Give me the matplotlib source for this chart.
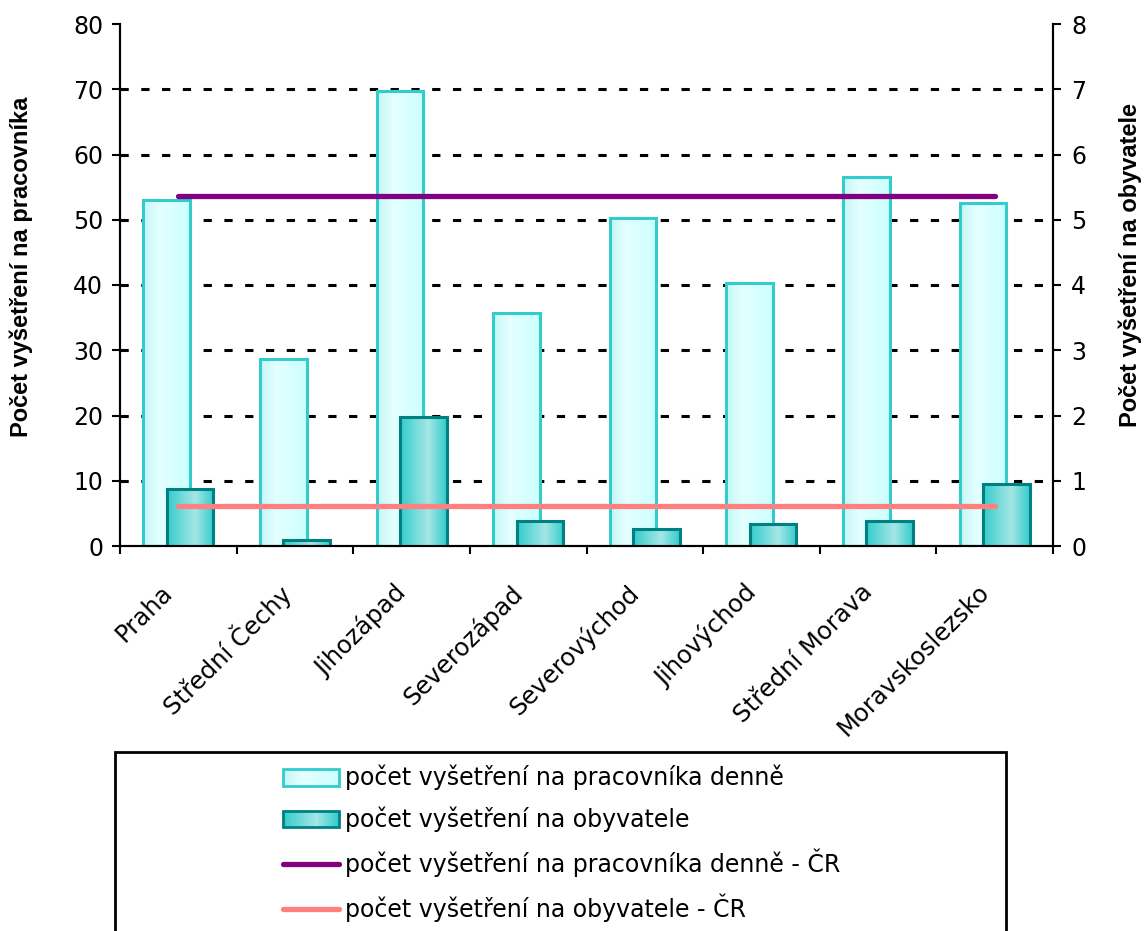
import numpy as np
import matplotlib
matplotlib.use("Agg")
import matplotlib.pyplot as plt
from matplotlib.colors import LinearSegmentedColormap
from matplotlib.patches import Rectangle
from matplotlib.lines import Line2D
from matplotlib.legend_handler import HandlerBase
from matplotlib.transforms import ScaledTranslation

# regiony
regiony = ["Praha", "Střední Čechy", "Jihozápad", "Severozápad",
           "Severovýchod", "Jihovýchod", "Střední Morava", "Moravskoslezsko"]
# počet vyšetření na pracovníka denně (levá osa)
na_pracovnika = [53.1, 28.6, 69.7, 35.7, 50.3, 40.3, 56.6, 52.5]
# počet vyšetření na obyvatele (pravá osa)
na_obyvatele = [0.88, 0.09, 1.97, 0.38, 0.26, 0.34, 0.38, 0.95]
# průměr za ČR
cr_pracovnik = 53.7
cr_obyvatel = 0.62

popisky = ["počet vyšetření na pracovníka denně",
           "počet vyšetření na obyvatele",
           "počet vyšetření na pracovníka denně - ČR",
           "počet vyšetření na obyvatele - ČR"]

# barevné přechody sloupců (zleva doprava)
cmap_svetla = LinearSegmentedColormap.from_list(
    "svetla", [(0, "#c4f6f6"), (0.35, "#e4ffff"), (1, "#ccffff")])
cmap_tmava = LinearSegmentedColormap.from_list(
    "tmava", [(0, "#33cccc"), (0.6, "#a6e6e6"), (1, "#33cccc")])

plt.rcParams["font.family"] = "DejaVu Sans"

fig = plt.figure(figsize=(11.46, 9.31), dpi=100)
ax = fig.add_axes([120 / 1146, 1 - 546 / 931, 933 / 1146, 522 / 931])
ax2 = ax.twinx()

x = np.arange(len(regiony))
sirka = 0.4


def gradient_sloupce(osa, sloupce, cmap):
    grad = np.linspace(0, 1, 256).reshape(1, -1)
    for s in sloupce:
        x0 = s.get_x()
        im = osa.imshow(grad, cmap=cmap, aspect="auto", interpolation="bilinear",
                        extent=[x0, x0 + s.get_width(), 0, s.get_height()],
                        zorder=s.get_zorder() - 0.1)
        im.set_clip_path(s)


# mřížka (bez čáry na horním okraji)
for hodnota in range(10, 80, 10):
    ax.axhline(hodnota, color="black", linewidth=2.2,
               linestyle=(0, (2.7, 4.1)), zorder=0.5)

s1 = ax.bar(x - 0.1, na_pracovnika, sirka, facecolor="none",
            edgecolor="#33cccc", linewidth=2.2, zorder=2)
gradient_sloupce(ax, s1, cmap_svetla)
ax.plot([x[0], x[-1]], [cr_pracovnik, cr_pracovnik], color="#800080",
        linewidth=3.8, solid_capstyle="round", zorder=3)

s2 = ax2.bar(x + 0.1, na_obyvatele, sirka, facecolor="none",
             edgecolor="#008080", linewidth=2.2, zorder=2)
gradient_sloupce(ax2, s2, cmap_tmava)
ax2.plot([x[0], x[-1]], [cr_obyvatel, cr_obyvatel], color="#ff8080",
         linewidth=3.8, solid_capstyle="round", zorder=3)

ax.set_xlim(-0.5, len(regiony) - 0.5)
ax.set_ylim(0, 80)
ax2.set_ylim(0, 8)
ax.set_yticks(range(0, 81, 10))
ax2.set_yticks(range(0, 9))

ax.set_xticks(x)
ax.set_xticklabels(regiony, rotation=45, ha="right", va="top",
                   rotation_mode="anchor", fontsize=17.5)
ax.set_xticks(np.arange(-0.5, len(regiony)), minor=True)
ax.tick_params(axis="x", which="major", length=0, pad=26)
ax.tick_params(axis="x", which="minor", length=6, width=1.5)
ax.tick_params(axis="y", length=6, width=1.5, labelsize=17, pad=6)
ax2.tick_params(axis="y", length=6, width=1.5, labelsize=17, pad=7)

for osa in (ax, ax2):
    osa.spines["top"].set_visible(False)
    for sp in ("left", "right", "bottom"):
        osa.spines[sp].set_linewidth(1.5)

ax.set_ylabel("Počet vyšetření na pracovníka", fontsize=17,
              fontweight="bold", family="Liberation Sans")
ax.yaxis.set_label_coords(-0.093, 0.5345)
ax2.set_ylabel("Počet vyšetření na obyvatele", fontsize=17,
               fontweight="bold", family="Liberation Sans")
ax2.yaxis.set_label_coords(1.0697, 0.538)


class GradientHandler(HandlerBase):
    def __init__(self, cmap, edge):
        super().__init__()
        self.cmap = cmap
        self.edge = edge

    def create_artists(self, legend, orig_handle, xdescent, ydescent,
                       width, height, fontsize, trans):
        n = 40
        w = width / n
        artists = []
        for k in range(n):
            r = Rectangle((-xdescent + k * w, -ydescent), w * 1.05, height,
                          facecolor=self.cmap(k / (n - 1)), linewidth=0,
                          transform=trans)
            artists.append(r)
        artists.append(Rectangle((-xdescent, -ydescent), width, height,
                                 fill=False, edgecolor=self.edge,
                                 linewidth=2, transform=trans))
        return artists


h1 = Rectangle((0, 0), 1, 1)
h2 = Rectangle((0, 0), 1, 1)
h3 = Line2D([], [], color="#800080", linewidth=3.8, solid_capstyle="round")
h4 = Line2D([], [], color="#ff8080", linewidth=3.8, solid_capstyle="round")

fig.legend([h1, h2, h3, h4], popisky, loc="upper left",
           bbox_to_anchor=(283 / 1146, 1 - 765 / 931), frameon=False,
           fontsize=17, borderpad=0, borderaxespad=0, handlelength=2.37,
           handleheight=0.72, handletextpad=0.25, labelspacing=0.69,
           handler_map={h1: GradientHandler(cmap_svetla, "#33cccc"),
                        h2: GradientHandler(cmap_tmava, "#008080")})

# rámeček legendy
fig.add_artist(Rectangle((115 / 1146, -0.05), (1006 - 115) / 1146,
                         1 - 752 / 931 + 0.05, fill=False, edgecolor="black",
                         linewidth=2, transform=fig.transFigure, clip_on=False))

# posun popisků kategorií doleva
posun = ScaledTranslation(-18 / 100, 2 / 100, fig.dpi_scale_trans)
for lbl in ax.get_xticklabels():
    lbl.set_transform(lbl.get_transform() + posun)

fig.savefig("out.png", dpi=100)
